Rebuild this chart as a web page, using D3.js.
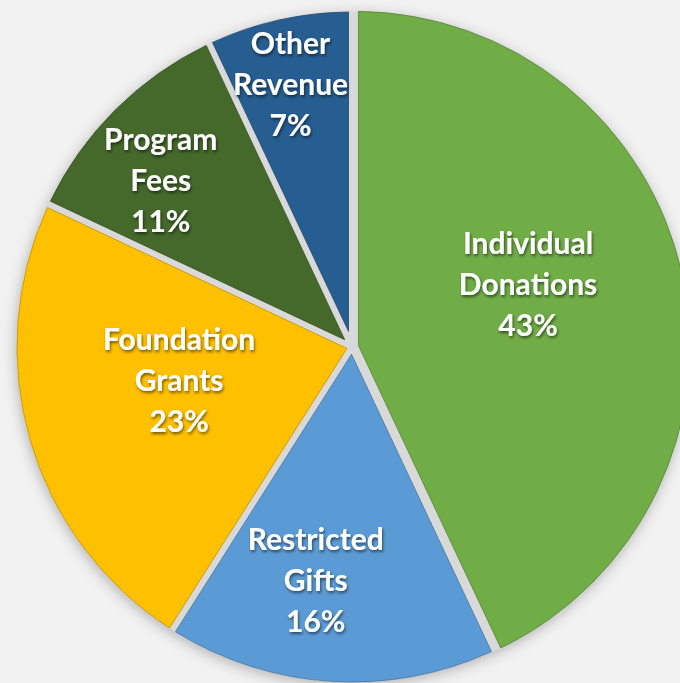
<!DOCTYPE html>
<meta charset="utf-8">
<script src="https://d3js.org/d3.v7.min.js"></script>
<style>
  body { margin: 0; background: #f2f2f2; }
  #chart text { font-family: Lato, "Open Sans", sans-serif; font-weight: bold; font-size: 30px; fill: white; }
</style>
<div id="chart"></div>
<script>
// revenue mix, clockwise from 12 o'clock
var categories = ["Individual Donations", "Restricted Gifts", "Foundation Grants", "Program Fees", "Other Revenue"];
var values = [43, 16, 23, 11, 7];
var colors = ["#70ad47", "#5b9bd5", "#ffc000", "#44692b", "#265e92"];

// label placement (fraction of radius, angle nudge in degrees) and explode distance
var labelFrac = [0.55, 0.70, 0.525, 0.76, 0.81];
var labelNudge = [-7.4, 5.3, 5.7, -3.7, -0.5];
var explode = [3, 0, 0, 0, 0];

var width = 680, height = 683;
var cx = 352, cy = 347, radius = 335, half = 3.5;

var svg = d3.select("#chart").append("svg")
    .attr("width", width)
    .attr("height", height);

var defs = svg.append("defs");
defs.append("filter").attr("id", "pie-shadow")
    .attr("x", "-20%").attr("y", "-20%").attr("width", "140%").attr("height", "140%")
  .append("feDropShadow")
    .attr("dx", -1).attr("dy", 3).attr("stdDeviation", 7)
    .attr("flood-color", "#000").attr("flood-opacity", 0.28);
defs.append("filter").attr("id", "txt-shadow")
    .attr("x", "-20%").attr("y", "-20%").attr("width", "140%").attr("height", "140%")
  .append("feDropShadow")
    .attr("dx", 1).attr("dy", 2).attr("stdDeviation", 1.5)
    .attr("flood-color", "#000").attr("flood-opacity", 0.55);

var g = svg.append("g").attr("transform", "translate(" + cx + "," + cy + ")");

var data = categories.map(function(c, i) { return { name: c, value: values[i], color: colors[i], i: i }; });

var pie = d3.pie().sort(null).value(function(d) { return d.value; });
var arcs = pie(data);

// wedge with both straight edges pulled in by `half`, so gaps stay parallel
function wedge(d) {
  var a0 = d.startAngle, a1 = d.endAngle, mid = (a0 + a1) / 2;
  var vd = half / Math.sin((a1 - a0) / 2);
  var da = Math.asin(half / radius);
  var p = d3.path();
  p.moveTo(Math.sin(mid) * vd, -Math.cos(mid) * vd);
  p.lineTo(Math.sin(a0 + da) * radius, -Math.cos(a0 + da) * radius);
  p.arc(0, 0, radius, a0 + da - Math.PI / 2, a1 - da - Math.PI / 2);
  p.closePath();
  return p.toString();
}

function offset(d) {
  var a = (d.startAngle + d.endAngle) / 2;
  var e = explode[d.data.i];
  return [Math.sin(a) * e, -Math.cos(a) * e];
}

// gray backing that shows in the gaps
var back = g.append("g").attr("filter", "url(#pie-shadow)");
back.append("circle").attr("r", radius).attr("fill", "#d9d9d9");
back.selectAll(".back-slice")
    .data(arcs.filter(function(d) { return explode[d.data.i] > 0; }))
    .enter().append("path")
    .attr("class", "back-slice")
    .attr("fill", "#d9d9d9")
    .attr("transform", function(d) { var o = offset(d); return "translate(" + o[0] + "," + o[1] + ")"; })
    .attr("d", d3.arc().innerRadius(0).outerRadius(radius));

g.selectAll(".slice")
    .data(arcs)
    .enter().append("path")
    .attr("class", "slice")
    .attr("fill", function(d) { return d.data.color; })
    .attr("stroke", function(d) { return d3.color(d.data.color).darker(0.8); })
    .attr("stroke-width", 0.8)
    .attr("transform", function(d) { var o = offset(d); return "translate(" + o[0] + "," + o[1] + ")"; })
    .attr("d", wedge);

var labels = g.append("g").attr("filter", "url(#txt-shadow)");
var lineH = 41;
arcs.forEach(function(d) {
  var i = d.data.i;
  var a = (d.startAngle + d.endAngle) / 2 + labelNudge[i] * Math.PI / 180;
  var r = labelFrac[i] * radius;
  var o = offset(d);
  var x = o[0] + Math.sin(a) * r;
  var y = o[1] - Math.cos(a) * r;
  var lines = d.data.name.split(" ").concat([d.data.value + "%"]);
  var t = labels.append("text").attr("text-anchor", "middle");
  lines.forEach(function(s, k) {
    t.append("tspan")
      .attr("x", x)
      .attr("y", y + (k - 1) * lineH)
      .attr("dominant-baseline", "central")
      .text(s);
  });
});
</script>
